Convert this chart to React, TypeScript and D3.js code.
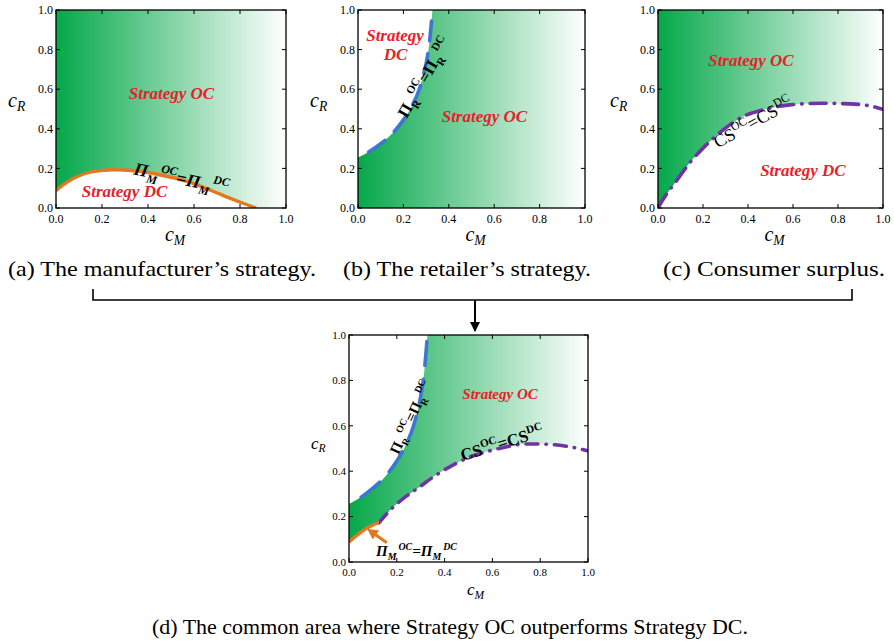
import React from "react";
import * as d3 from "d3";

// ---------------- data ----------------
const tickValues = [0, 0.2, 0.4, 0.6, 0.8, 1.0];
const tickLabels = ["0.0", "0.2", "0.4", "0.6", "0.8", "1.0"];

// manufacturer indifference curve  Π_M^OC = Π_M^DC
const orangeCM = [0, 0.05, 0.1, 0.16, 0.25, 0.34, 0.45, 0.57, 0.68, 0.77, 0.87];
const orangeCR = [0.088, 0.132, 0.163, 0.184, 0.193, 0.188, 0.168, 0.134, 0.086, 0.043, 0];

// retailer indifference curve  Π_R^OC = Π_R^DC
const blueCM = [0, 0.05, 0.1, 0.15, 0.2, 0.24, 0.27, 0.29, 0.305, 0.315, 0.322, 0.328];
const blueCR = [0.255, 0.285, 0.325, 0.375, 0.445, 0.52, 0.6, 0.68, 0.76, 0.84, 0.92, 1.0];

// consumer surplus curve  CS^OC = CS^DC (panel c)
const purpleCM = [0, 0.015, 0.08, 0.14, 0.207, 0.29, 0.378, 0.467, 0.585, 0.733, 0.852, 0.94, 1.0];
const purpleCR = [0, 0.03, 0.134, 0.227, 0.31, 0.395, 0.462, 0.496, 0.521, 0.529, 0.526, 0.516, 0.498];

// consumer surplus curve as drawn in panel d
const purpleDCM = [0.125, 0.179, 0.24, 0.297, 0.36, 0.435, 0.5, 0.576, 0.66, 0.743, 0.84, 0.92, 1.0];
const purpleDCR = [0.172, 0.236, 0.29, 0.332, 0.38, 0.427, 0.46, 0.486, 0.508, 0.52, 0.518, 0.508, 0.49];

const dJunctionCM = 0.125;

const captions = [
  "(a) The manufacturer\u2019s strategy.",
  "(b) The retailer\u2019s strategy.",
  "(c) Consumer surplus.",
  "(d) The common area where Strategy OC outperforms Strategy DC.",
];

// ---------------- helpers ----------------
type P = [number, number];
const pts = (xs: number[], ys: number[]): P[] => xs.map((x, i) => [x, ys[i]]);
const orangePts = pts(orangeCM, orangeCR);
const bluePts = pts(blueCM, blueCR);
const purplePts = pts(purpleCM, purpleCR);
const purpleDPts = pts(purpleDCM, purpleDCR);

const SERIF = "Liberation Serif";
const RED = "#e8202a";
const ORANGE = "#e2781f";
const BLUE = "#3b78d2";
const PURPLE = "#6f33a3";

type Box = { x0: number; x1: number; y0: number; y1: number };

function makeScales(b: Box) {
  const sx = d3.scaleLinear().domain([0, 1]).range([b.x0, b.x1]);
  const sy = d3.scaleLinear().domain([0, 1]).range([b.y1, b.y0]);
  return { sx, sy };
}

function Axes({ b, tickFont, axisFont, small }: { b: Box; tickFont: number; axisFont: number; small?: boolean }) {
  const { sx, sy } = makeScales(b);
  const tl = 4;
  return (
    <g>
      <rect x={b.x0} y={b.y0} width={b.x1 - b.x0} height={b.y1 - b.y0} fill="none" stroke="#000" strokeWidth={1.3} />
      {tickValues.map((v, i) => (
        <g key={i}>
          <line x1={sx(v)} x2={sx(v)} y1={b.y1} y2={b.y1 - tl} stroke="#000" strokeWidth={1} />
          <line x1={sx(v)} x2={sx(v)} y1={b.y0} y2={b.y0 + tl} stroke="#000" strokeWidth={1} />
          <line x1={b.x0} x2={b.x0 + tl} y1={sy(v)} y2={sy(v)} stroke="#000" strokeWidth={1} />
          <line x1={b.x1} x2={b.x1 - tl} y1={sy(v)} y2={sy(v)} stroke="#000" strokeWidth={1} />
          <text x={sx(v)} y={b.y1 + tickFont + 3} textAnchor="middle" fontFamily={SERIF} fontSize={tickFont}>
            {tickLabels[i]}
          </text>
          <text x={b.x0 - 3} y={sy(v) + tickFont * 0.35} textAnchor="end" fontFamily={SERIF} fontSize={tickFont}>
            {tickLabels[i]}
          </text>
        </g>
      ))}
      <text x={b.x0 - (small ? 38 : 48)} y={sy(0.5) - (small ? 0 : 2)} fontFamily={SERIF} fontStyle="italic" fontSize={axisFont}>
        c<tspan fontSize={axisFont * 0.68} dy={axisFont * 0.22}>R</tspan>
      </text>
      <text x={sx(0.5) + (small ? 7 : 4)} y={b.y1 + 33} textAnchor="middle" fontFamily={SERIF} fontStyle="italic" fontSize={axisFont}>
        c<tspan fontSize={axisFont * 0.68} dy={axisFont * 0.22}>M</tspan>
      </text>
    </g>
  );
}

function PiLabel({ x, y, angle, size, sub, italic }: { x: number; y: number; angle: number; size: number; sub: string; italic: boolean }) {
  const s = size * 0.66;
  return (
    <text
      transform={`translate(${x},${y}) rotate(${angle})`}
      fontFamily={SERIF}
      fontWeight="bold"
      fontStyle={italic ? "italic" : "normal"}
      fontSize={size}
      fill="#000"
    >
      <tspan>Π</tspan>
      <tspan fontSize={s} dy={size * 0.28}>{sub}</tspan>
      <tspan fontSize={s} dx={2} dy={-size * 0.72}>OC</tspan>
      <tspan dy={size * 0.44}>=Π</tspan>
      <tspan fontSize={s} dy={size * 0.28}>{sub}</tspan>
      <tspan fontSize={s} dx={2} dy={-size * 0.72}>DC</tspan>
    </text>
  );
}

function CSLabel({ x, y, angle, size, bold }: { x: number; y: number; angle: number; size: number; bold?: boolean }) {
  const s = size * 0.66;
  return (
    <text
      transform={`translate(${x},${y}) rotate(${angle})`}
      fontFamily={SERIF}
      fontWeight={bold ? "bold" : "normal"}
      fontSize={size}
      fill="#000"
    >
      <tspan>CS</tspan>
      <tspan fontSize={s} dy={-size * 0.42}>OC</tspan>
      <tspan dy={size * 0.42}>=CS</tspan>
      <tspan fontSize={s} dy={-size * 0.42}>DC</tspan>
    </text>
  );
}

function RedText({ x, y, size, children }: { x: number; y: number; size: number; children: React.ReactNode }) {
  return (
    <text x={x} y={y} textAnchor="middle" fontFamily={SERIF} fontWeight="bold" fontStyle="italic" fontSize={size} fill={RED}>
      {children}
    </text>
  );
}

const boxA: Box = { x0: 56, x1: 286, y0: 10, y1: 208 };
const boxB: Box = { x0: 358, x1: 585, y0: 10, y1: 208 };
const boxC: Box = { x0: 658, x1: 883, y0: 10, y1: 208 };
const boxD: Box = { x0: 349, x1: 588, y0: 335, y1: 562 };

function generators(b: Box) {
  const { sx, sy } = makeScales(b);
  const line = d3.line<P>().x((d) => sx(d[0])).y((d) => sy(d[1])).curve(d3.curveMonotoneX);
  const area = d3.area<P>().x((d) => sx(d[0])).y0(sy(0)).y1((d) => sy(d[1])).curve(d3.curveMonotoneX);
  const leftOf = (p: P[]) => (line(p) as string) + `L${sx(0)},${sy(1)}Z`;
  return { sx, sy, line, area, leftOf };
}

function PanelA() {
  const b = boxA;
  const { sx, sy, line, area } = generators(b);
  return (
    <g>
      <g clipPath="url(#clipA)">
        <rect x={b.x0} y={b.y0} width={b.x1 - b.x0} height={b.y1 - b.y0} fill="url(#grn)" />
        <path d={area(orangePts) as string} fill="#fff" />
        <path d={line(orangePts) as string} fill="none" stroke={ORANGE} strokeWidth={3.4} />
      </g>
      <RedText x={sx(0.502)} y={sy(0.55)} size={17}>Strategy OC</RedText>
      <RedText x={sx(0.298)} y={sy(0.056)} size={17}>Strategy DC</RedText>
      <PiLabel x={sx(0.335)} y={sy(0.17)} angle={12} size={18} sub="M" italic />
      <Axes b={b} tickFont={12} axisFont={20} />
    </g>
  );
}

function PanelB() {
  const b = boxB;
  const { sx, sy, line, leftOf } = generators(b);
  return (
    <g>
      <g clipPath="url(#clipB)">
        <rect x={b.x0} y={b.y0} width={b.x1 - b.x0} height={b.y1 - b.y0} fill="url(#grn)" />
        <path d={leftOf(bluePts)} fill="#fff" />
        <path d={line(bluePts) as string} fill="none" stroke={BLUE} strokeWidth={3.6} strokeLinecap="round" strokeDasharray="20,13" strokeDashoffset={-12} />
      </g>
      <RedText x={sx(0.163)} y={sy(0.843)} size={17}>Strategy</RedText>
      <RedText x={sx(0.165)} y={sy(0.745)} size={17}>DC</RedText>
      <RedText x={sx(0.557)} y={sy(0.434)} size={17}>Strategy OC</RedText>
      <PiLabel x={sx(0.215)} y={sy(0.45)} angle={-60} size={17} sub="R" italic={false} />
      <Axes b={b} tickFont={12} axisFont={20} />
    </g>
  );
}

function PanelC() {
  const b = boxC;
  const { sx, sy, line, area } = generators(b);
  return (
    <g>
      <g clipPath="url(#clipC)">
        <rect x={b.x0} y={b.y0} width={b.x1 - b.x0} height={b.y1 - b.y0} fill="url(#grn)" />
        <path d={area(purplePts) as string} fill="#fff" />
        <path d={line(purplePts) as string} fill="none" stroke={PURPLE} strokeWidth={3.6} strokeLinecap="round" strokeDasharray="16,8,0.5,8" />
      </g>
      <RedText x={sx(0.413)} y={sy(0.717)} size={17}>Strategy OC</RedText>
      <RedText x={sx(0.644)} y={sy(0.162)} size={17}>Strategy DC</RedText>
      <CSLabel x={sx(0.265)} y={sy(0.3)} angle={-29} size={18} />
      <Axes b={b} tickFont={12} axisFont={20} />
    </g>
  );
}

function PanelD() {
  const b = boxD;
  const { sx, sy, line, area, leftOf } = generators(b);
  return (
    <g>
      <g clipPath="url(#clipD)">
        <rect x={b.x0} y={b.y0} width={b.x1 - b.x0} height={b.y1 - b.y0} fill="url(#grn)" />
        <path d={area(orangePts) as string} fill="#fff" />
        <path d={area(purpleDPts) as string} fill="#fff" />
        <path d={leftOf(bluePts)} fill="#fff" />
        <path d={line(bluePts) as string} fill="none" stroke={BLUE} strokeWidth={3.6} strokeLinecap="round" strokeDasharray="24,14" strokeDashoffset={-14} />
        <path d={line(purpleDPts) as string} fill="none" stroke={PURPLE} strokeWidth={3.6} strokeLinecap="round" strokeDasharray="12,8,0.5,8" />
      </g>
      <g clipPath="url(#clipDor)">
        <path d={line(orangePts) as string} fill="none" stroke={ORANGE} strokeWidth={3.4} />
      </g>
      <RedText x={sx(0.632)} y={sy(0.718)} size={15}>Strategy OC</RedText>
      <PiLabel x={sx(0.207)} y={sy(0.47)} angle={-65} size={15} sub="R" italic={false} />
      <CSLabel x={sx(0.475)} y={sy(0.445)} angle={-17} size={17} bold />
      <PiLabel x={sx(0.113)} y={sy(0.026)} angle={0} size={15} sub="M" italic />
      <line x1={sx(0.158)} y1={sy(0.085)} x2={sx(0.098)} y2={sy(0.13)} stroke={ORANGE} strokeWidth={3} markerEnd="url(#arrOr)" />
      <Axes b={b} tickFont={11} axisFont={17} small />
    </g>
  );
}

export default function App() {
  const sxD = d3.scaleLinear().domain([0, 1]).range([boxD.x0, boxD.x1]);
  return (
    <svg width={894} height={641} style={{ position: "absolute", left: 0, top: 0, background: "#fff" }}>
      <defs>
        <linearGradient id="grn" x1="0" x2="1" y1="0" y2="0">
          <stop offset="0" stopColor="#05a84a" />
          <stop offset="1" stopColor="#ffffff" />
        </linearGradient>
        {[
          ["clipA", boxA],
          ["clipB", boxB],
          ["clipC", boxC],
          ["clipD", boxD],
        ].map(([id, b]: any) => (
          <clipPath id={id} key={id}>
            <rect x={b.x0} y={b.y0} width={b.x1 - b.x0} height={b.y1 - b.y0} />
          </clipPath>
        ))}
        <clipPath id="clipDor">
          <rect x={boxD.x0} y={boxD.y0} width={sxD(dJunctionCM) - boxD.x0} height={boxD.y1 - boxD.y0} />
        </clipPath>
        <marker id="arrOr" viewBox="0 0 10 10" refX="4" refY="5" markerWidth="11" markerHeight="11" orient="auto" markerUnits="userSpaceOnUse">
          <path d="M0,0L10,5L0,10Z" fill={ORANGE} />
        </marker>
        <marker id="arrBk" viewBox="0 0 10 10" refX="9" refY="5" markerWidth="13" markerHeight="10" orient="auto" markerUnits="userSpaceOnUse">
          <path d="M0,0L10,5L0,10Z" fill="#000" />
        </marker>
      </defs>
      <PanelA />
      <PanelB />
      <PanelC />
      <PanelD />
      {/* captions */}
      <text x={8} y={276} fontFamily={SERIF} fontSize={21} textLength={308} lengthAdjust="spacingAndGlyphs">{captions[0]}</text>
      <text x={343} y={276} fontFamily={SERIF} fontSize={21} textLength={248} lengthAdjust="spacingAndGlyphs">{captions[1]}</text>
      <text x={663} y={276} fontFamily={SERIF} fontSize={21} textLength={222} lengthAdjust="spacingAndGlyphs">{captions[2]}</text>
      <text x={152} y={634} fontFamily={SERIF} fontSize={21} textLength={596} lengthAdjust="spacingAndGlyphs">{captions[3]}</text>
      {/* bracket */}
      <path d="M93,289V300H852V289" fill="none" stroke="#000" strokeWidth={1.6} />
      <line x1={475} y1={300} x2={475} y2={331} stroke="#000" strokeWidth={2} markerEnd="url(#arrBk)" />
    </svg>
  );
}
